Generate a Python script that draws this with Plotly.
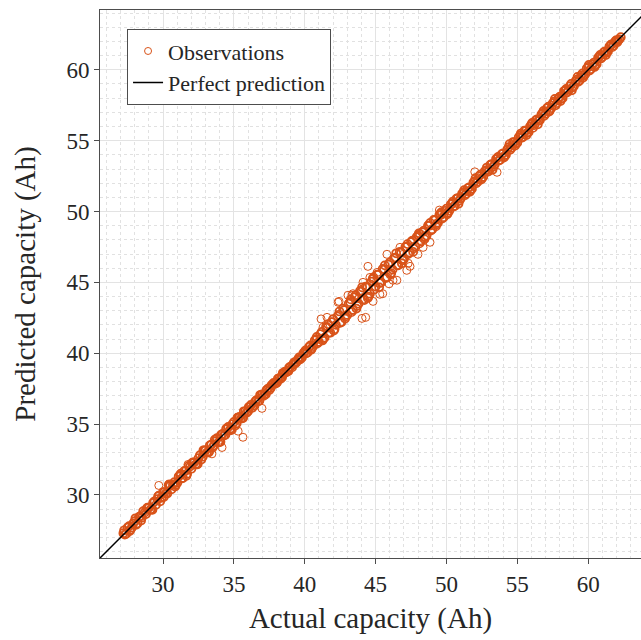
import plotly.graph_objects as go

# ---- data ----
actual_core = [
    27.2, 27.4, 27.6, 27.8, 28.0, 28.2, 28.4, 28.6, 28.8, 29.0,
    29.2, 29.4, 29.6, 29.8, 30.0, 30.2, 30.4, 30.6, 30.8, 31.0,
    31.2, 31.4, 31.6, 31.8, 32.0, 32.2, 32.4, 32.6, 32.8, 33.0,
    33.2, 33.4, 33.6, 33.8, 34.0, 34.2, 34.4, 34.6, 34.8, 35.0,
    35.2, 35.4, 35.6, 35.8, 36.0, 36.2, 36.4, 36.6, 36.8, 37.0,
    37.2, 37.4, 37.6, 37.8, 38.0, 38.2, 38.4, 38.6, 38.8, 39.0,
    39.2, 39.4, 39.6, 39.8, 40.0, 40.2, 40.4, 40.6, 40.8, 41.0,
    41.2, 41.4, 41.6, 41.8, 42.0, 42.2, 42.4, 42.6, 42.8, 43.0,
    43.2, 43.4, 43.6, 43.8, 44.0, 44.2, 44.4, 44.6, 44.8, 45.0,
    45.2, 45.4, 45.6, 45.8, 46.0, 46.2, 46.4, 46.6, 46.8, 47.0,
    47.2, 47.4, 47.6, 47.8, 48.0, 48.2, 48.4, 48.6, 48.8, 49.0,
    49.2, 49.4, 49.6, 49.8, 50.0, 50.2, 50.4, 50.6, 50.8, 51.0,
    51.2, 51.4, 51.6, 51.8, 52.0, 52.2, 52.4, 52.6, 52.8, 53.0,
    53.2, 53.4, 53.6, 53.8, 54.0, 54.2, 54.4, 54.6, 54.8, 55.0,
    55.2, 55.4, 55.6, 55.8, 56.0, 56.2, 56.4, 56.6, 56.8, 57.0,
    57.2, 57.4, 57.6, 57.8, 58.0, 58.2, 58.4, 58.6, 58.8, 59.0,
    59.2, 59.4, 59.6, 59.8, 60.0, 60.2, 60.4, 60.6, 60.8, 61.0,
    61.2, 61.4, 61.6, 61.8, 62.0, 62.2, 62.3,
]
predicted_core = [
    27.3, 27.25, 27.8, 27.7, 28.15, 28.0, 28.5, 28.85, 28.65, 29.1,
    29.0, 29.55, 29.7, 29.55, 30.2, 30.1, 30.7, 30.4, 30.9, 30.85,
    31.4, 31.2, 31.7, 32.05, 31.85, 32.3, 32.15, 32.8, 32.7, 33.15,
    33.0, 33.55, 33.5, 34.0, 33.75, 34.3, 34.25, 34.8, 34.7, 35.15,
    35.05, 35.5, 35.4, 35.9, 35.9, 36.35, 36.3, 36.7, 36.65, 37.1,
    37.1, 37.5, 37.55, 37.9, 37.9, 38.25, 38.3, 38.7, 38.75, 39.05,
    39.25, 39.35, 39.7, 39.7, 40.1, 40.05, 40.55, 40.5, 41.0, 40.8,
    41.5, 41.1, 41.8, 41.45, 42.4, 42.0, 42.7, 42.2, 43.05, 42.7,
    43.6, 43.05, 44.1, 43.5, 44.35, 43.75, 44.7, 44.2, 45.25, 44.7,
    45.55, 45.0, 45.9, 45.35, 46.4, 45.9, 46.75, 46.2, 47.1, 46.65,
    47.5, 47.1, 47.95, 47.55, 48.3, 47.9, 48.65, 48.3, 49.0, 48.75,
    49.4, 49.2, 49.75, 49.6, 50.2, 50.05, 50.55, 50.4, 50.95, 50.9,
    51.35, 51.25, 51.7, 51.6, 52.15, 52.1, 52.6, 52.45, 52.9, 52.85,
    53.35, 53.3, 53.8, 53.65, 54.1, 54.0, 54.55, 54.5, 54.9, 54.85,
    55.35, 55.25, 55.7, 55.6, 56.15, 56.1, 56.5, 56.45, 56.95, 56.9,
    57.4, 57.3, 57.75, 57.65, 58.1, 58.0, 58.55, 58.5, 59.0, 58.85,
    59.3, 59.25, 59.75, 59.7, 60.2, 60.05, 60.5, 60.4, 60.95, 60.9,
    61.3, 61.3, 61.75, 61.7, 62.1, 62.15, 62.3,
]
actual_core_b = [
    27.3, 27.5, 27.7, 27.9, 28.1, 28.3, 28.5, 28.7, 28.9, 29.1,
    29.3, 29.5, 29.7, 29.9, 30.1, 30.3, 30.5, 30.7, 30.9, 31.1,
    31.3, 31.5, 31.7, 31.9, 32.1, 32.3, 32.5, 32.7, 32.9, 33.1,
    33.3, 33.5, 33.7, 33.9, 34.1, 34.3, 34.5, 34.7, 34.9, 35.1,
    35.3, 35.5, 35.7, 35.9, 36.1, 36.3, 36.5, 36.7, 36.9, 37.1,
    37.3, 37.5, 37.7, 37.9, 38.1, 38.3, 38.5, 38.7, 38.9, 39.1,
    39.3, 39.5, 39.7, 39.9, 40.1, 40.3, 40.5, 40.7, 40.9, 41.1,
    41.3, 41.5, 41.7, 41.9, 42.1, 42.3, 42.5, 42.7, 42.9, 43.1,
    43.3, 43.5, 43.7, 43.9, 44.1, 44.3, 44.5, 44.7, 44.9, 45.1,
    45.3, 45.5, 45.7, 45.9, 46.1, 46.3, 46.5, 46.7, 46.9, 47.1,
    47.3, 47.5, 47.7, 47.9, 48.1, 48.3, 48.5, 48.7, 48.9, 49.1,
    49.3, 49.5, 49.7, 49.9, 50.1, 50.3, 50.5, 50.7, 50.9, 51.1,
    51.3, 51.5, 51.7, 51.9, 52.1, 52.3, 52.5, 52.7, 52.9, 53.1,
    53.3, 53.5, 53.7, 53.9, 54.1, 54.3, 54.5, 54.7, 54.9, 55.1,
    55.3, 55.5, 55.7, 55.9, 56.1, 56.3, 56.5, 56.7, 56.9, 57.1,
    57.3, 57.5, 57.7, 57.9, 58.1, 58.3, 58.5, 58.7, 58.9, 59.1,
    59.3, 59.5, 59.7, 59.9, 60.1, 60.3, 60.5, 60.7, 60.9, 61.1,
    61.3, 61.5, 61.7, 61.9, 62.1,
]
predicted_core_b = [
    27.2, 27.7, 27.55, 28.0, 27.9, 28.45, 28.4, 28.75, 29.1, 28.95,
    29.45, 29.3, 29.95, 29.8, 30.2, 30.1, 30.65, 30.75, 30.7, 31.3,
    31.15, 31.7, 31.5, 32.0, 32.3, 32.15, 32.6, 32.5, 33.15, 33.0,
    33.5, 33.35, 33.8, 33.7, 34.25, 34.2, 34.7, 34.55, 35.0, 34.9,
    35.45, 35.4, 35.9, 35.8, 36.2, 36.15, 36.6, 36.6, 37.05, 37.0,
    37.4, 37.4, 37.75, 37.85, 38.2, 38.2, 38.55, 38.65, 39.0, 39.0,
    39.25, 39.55, 39.6, 40.0, 40.0, 40.45, 40.35, 40.9, 40.7, 41.35,
    41.0, 41.85, 41.45, 42.2, 41.7, 42.6, 42.15, 43.15, 42.6, 43.5,
    42.9, 43.95, 43.35, 44.4, 43.8, 44.7, 44.0, 45.05, 44.5, 45.55,
    44.95, 45.95, 45.3, 46.25, 45.65, 46.7, 46.2, 47.15, 46.55, 47.5,
    47.0, 47.85, 47.4, 48.2, 47.75, 48.55, 48.2, 49.0, 48.65, 49.4,
    49.1, 49.75, 49.5, 50.05, 49.9, 50.5, 50.35, 50.9, 50.75, 51.25,
    51.15, 51.65, 51.5, 52.05, 52.0, 52.5, 52.35, 52.85, 52.8, 53.3,
    53.15, 53.7, 53.6, 54.05, 53.9, 54.4, 54.35, 54.9, 54.8, 55.25,
    55.2, 55.7, 55.55, 56.0, 55.9, 56.45, 56.4, 56.85, 56.75, 57.3,
    57.15, 57.65, 57.5, 58.0, 57.95, 58.5, 58.4, 58.85, 58.75, 59.2,
    59.15, 59.6, 59.6, 60.1, 59.95, 60.4, 60.3, 60.85, 60.8, 61.25,
    61.2, 61.65, 61.6, 62.0, 62.05,
]
actual_core_c = [
    27.25, 27.65, 28.05, 28.45, 28.85, 29.25, 29.65, 30.05, 30.45, 30.85,
    31.25, 31.65, 32.05, 32.45, 32.85, 33.25, 33.65, 34.05, 34.45, 34.85,
    35.25, 35.65, 36.05, 36.45, 36.85, 37.25, 37.65, 38.05, 38.45, 38.85,
    39.25, 39.65, 40.05, 40.45, 40.85, 41.25, 41.65, 42.05, 42.45, 42.85,
    43.25, 43.65, 44.05, 44.45, 44.85, 45.25, 45.65, 46.05, 46.45, 46.85,
    47.25, 47.65, 48.05, 48.45, 48.85, 49.25, 49.65, 50.05, 50.45, 50.85,
    51.25, 51.65, 52.05, 52.45, 52.85, 53.25, 53.65, 54.05, 54.45, 54.85,
    55.25, 55.65, 56.05, 56.45, 56.85, 57.25, 57.65, 58.05, 58.45, 58.85,
    59.25, 59.65, 60.05, 60.45, 60.85, 61.25, 61.65, 62.05,
]
predicted_core_c = [
    27.5, 27.45, 28.35, 28.2, 29.05, 28.95, 29.9, 29.85, 30.75, 30.6,
    31.5, 31.35, 32.25, 32.2, 33.15, 33.05, 33.9, 33.75, 34.65, 34.6,
    35.45, 35.45, 36.2, 36.3, 37.05, 37.1, 37.75, 37.95, 38.6, 38.75,
    39.35, 39.55, 40.2, 40.25, 41.15, 40.9, 42.05, 41.6, 42.95, 42.45,
    43.8, 43.15, 44.65, 43.9, 45.35, 44.65, 46.2, 45.55, 47.05, 46.35,
    47.7, 47.15, 48.45, 48.05, 49.2, 48.95, 49.95, 49.8, 50.7, 50.55,
    51.5, 51.4, 52.35, 52.25, 53.1, 52.95, 53.85, 53.8, 54.75, 54.65,
    55.5, 55.4, 56.25, 56.15, 57.1, 57.05, 57.95, 57.8, 58.65, 58.55,
    59.5, 59.45, 60.35, 60.2, 61.05, 61.05, 61.8, 61.95,
]
actual_outliers = [
    29.7, 31.76, 33.45, 34.16, 35.3, 35.64, 36.98,
    41.15, 41.57, 41.29, 42.35, 42.42, 43.05, 43.33, 43.4, 44.04, 44.3,
    44.82, 45.3, 45.5, 45.95, 46.5, 47.2, 47.3, 45.8, 46.72, 44.46,
    45.1, 44.11, 44.6, 45.9, 46.23, 47.43, 47.99, 48.35, 48.84, 48.7,
    48.13, 49.5, 49.54, 52.0, 53.57,
]
predicted_outliers = [
    30.67, 32.15, 32.9, 33.35, 34.5, 34.07, 36.11,
    42.42, 42.53, 41.83, 43.6, 43.66, 44.09, 44.09, 44.2, 42.46, 42.53,
    43.66, 44.16, 44.2, 44.9, 45.15, 45.85, 46.35, 46.98, 47.47, 46.13,
    45.7, 45.0, 45.35, 45.7, 45.15, 46.13, 46.98, 47.47, 47.83, 49.03,
    48.46, 50.1, 49.87, 52.8, 52.77,
]
perfect_line = [25.0, 66.0]

core_x = actual_core + actual_core_b + actual_core_c
core_y = predicted_core + predicted_core_b + predicted_core_c
actual = actual_outliers + core_x
predicted = predicted_outliers + core_y
# overlapping circles in the dense band render heavier than isolated ones
marker_line_widths = [1.0] * len(actual_outliers) + [1.8] * len(core_x)

FONT = "Liberation Serif"
ORANGE = "#D95319"

fig = go.Figure()
fig.add_trace(go.Scatter(
    x=actual, y=predicted, mode="markers", name="Observations",
    legendgroup="obs", showlegend=False,
    marker=dict(symbol="circle-open", size=8, color=ORANGE,
                line=dict(width=marker_line_widths, color=ORANGE)),
))
# legend entry for the observations (thin circle, as in the reference)
fig.add_trace(go.Scatter(
    x=[None], y=[None], mode="markers", name="Observations",
    legendgroup="obs", showlegend=True,
    marker=dict(symbol="circle-open", size=7, color=ORANGE,
                line=dict(width=1, color=ORANGE)),
))
fig.add_trace(go.Scatter(
    x=perfect_line, y=perfect_line, mode="lines", name="Perfect prediction",
    line=dict(color="black", width=1.5),
))

axis_common = dict(
    showline=True, linecolor="#4d4d4d", linewidth=1, mirror=True,
    ticks="outside", ticklen=5, tickcolor="#4d4d4d",
    tickfont=dict(family=FONT, size=23, color="#262626"),
    tick0=0, dtick=5,
    showgrid=True, gridcolor="#e3e3e3", gridwidth=1,
    minor=dict(dtick=1, showgrid=True, gridcolor="#e1e1e1", griddash="dot", gridwidth=1),
    zeroline=False,
)

fig.update_layout(
    width=641, height=640,
    margin=dict(l=100, r=0, t=10, b=82),
    paper_bgcolor="white", plot_bgcolor="white",
    xaxis=dict(range=[25.55, 63.73], **axis_common,
               title=dict(text="Actual capacity (Ah)", standoff=12,
                          font=dict(family=FONT, size=29, color="#262626"))),
    yaxis=dict(range=[25.55, 64.22], **axis_common,
               title=dict(text="Predicted capacity (Ah)", standoff=22,
                          font=dict(family=FONT, size=29, color="#262626"))),
    legend=dict(x=0.05, y=0.965, xanchor="left", yanchor="top",
                bgcolor="white", bordercolor="#4d4d4d", borderwidth=1,
                font=dict(family=FONT, size=22, color="#262626"),
                tracegroupgap=0, itemwidth=30),
    showlegend=True,
)

fig.write_html("out.html")
